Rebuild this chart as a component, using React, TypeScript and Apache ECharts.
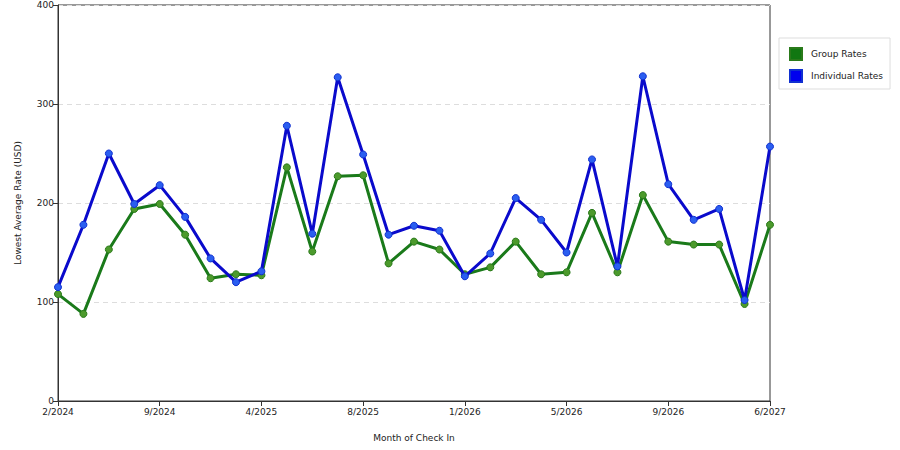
import { useEffect, useRef } from "react";
import * as echarts from "echarts";

const months = [
  "2/2024", "3/2024", "5/2024", "7/2024", "9/2024", "11/2024", "1/2025", "2/2025",
  "4/2025", "5/2025", "6/2025", "7/2025", "8/2025", "9/2025", "10/2025", "12/2025",
  "1/2026", "2/2026", "3/2026", "4/2026", "5/2026", "6/2026", "7/2026", "8/2026",
  "9/2026", "12/2026", "2/2027", "4/2027", "6/2027",
];

const groupRates = [
  108, 88, 153, 194, 199, 168, 124, 128, 127, 236, 151, 227, 228, 139, 161, 153,
  128, 135, 161, 128, 130, 190, 130, 208, 161, 158, 158, 98, 178,
];

const individualRates = [
  115, 178, 250, 199, 218, 186, 144, 120, 131, 278, 169, 327, 249, 168, 177, 172,
  126, 149, 205, 183, 150, 244, 136, 328, 219, 183, 194, 102, 257,
];

const font = "DejaVu Sans";

export default function App() {
  const ref = useRef<HTMLDivElement | null>(null);

  useEffect(() => {
    if (!ref.current) return;
    const chart = echarts.init(ref.current, null, { renderer: "svg" });
    chart.setOption({
      animation: false,
      backgroundColor: "#ffffff",
      textStyle: { fontFamily: font },
      grid: {
        left: 58, right: 130, top: 5, bottom: 49,
        show: true, borderColor: "#333", borderWidth: 1, backgroundColor: "transparent",
      },
      legend: {
        orient: "vertical",
        left: 779,
        top: 38,
        padding: [9, 7, 6, 10],
        itemGap: 8,
        itemWidth: 12,
        itemHeight: 12,
        icon: "rect",
        borderColor: "#ddd",
        borderWidth: 1,
        textStyle: { fontSize: 9, color: "#222", fontFamily: font, padding: [0, 0, 0, 4] },
        data: [
          { name: "Group Rates", itemStyle: { color: "#117711" } },
          { name: "Individual Rates", itemStyle: { color: "#0000ee" } },
        ],
      },
      xAxis: {
        type: "category",
        data: months,
        boundaryGap: false,
        name: "Month of Check In",
        nameLocation: "middle",
        nameGap: 32,
        nameTextStyle: { fontSize: 9, color: "#222" },
        axisLine: { lineStyle: { color: "#333" } },
        axisTick: { interval: 3, length: 5, lineStyle: { color: "#333" } },
        axisLabel: { interval: 3, fontSize: 9, color: "#222", margin: 6 },
        splitLine: { show: false },
      },
      yAxis: {
        type: "value",
        min: 0,
        max: 400,
        interval: 100,
        name: "Lowest Average Rate (USD)",
        nameLocation: "middle",
        nameGap: 36,
        nameTextStyle: { fontSize: 9, color: "#222" },
        axisLine: { show: true, lineStyle: { color: "#333" } },
        axisTick: { show: true, length: 5, lineStyle: { color: "#333" } },
        axisLabel: { fontSize: 9, color: "#222", margin: 4 },
        splitLine: { show: true, lineStyle: { color: "#dddddd", type: [5, 4] } },
      },
      series: [
        {
          name: "Group Rates",
          type: "line",
          data: groupRates,
          symbol: "circle",
          symbolSize: 7,
          lineStyle: { color: "#1a7a1a", width: 3 },
          itemStyle: { color: "#4c9a2c", borderColor: "#2a7a1a", borderWidth: 1 },
          z: 2,
        },
        {
          name: "Individual Rates",
          type: "line",
          data: individualRates,
          symbol: "circle",
          symbolSize: 7,
          lineStyle: { color: "#0a0acc", width: 3 },
          itemStyle: { color: "#2a5ef0", borderColor: "#1030d0", borderWidth: 1 },
          z: 3,
        },
      ],
    });
    return () => chart.dispose();
  }, []);

  return (
    <div
      ref={ref}
      style={{ position: "fixed", left: 0, top: 0, width: 900, height: 450 }}
    />
  );
}
